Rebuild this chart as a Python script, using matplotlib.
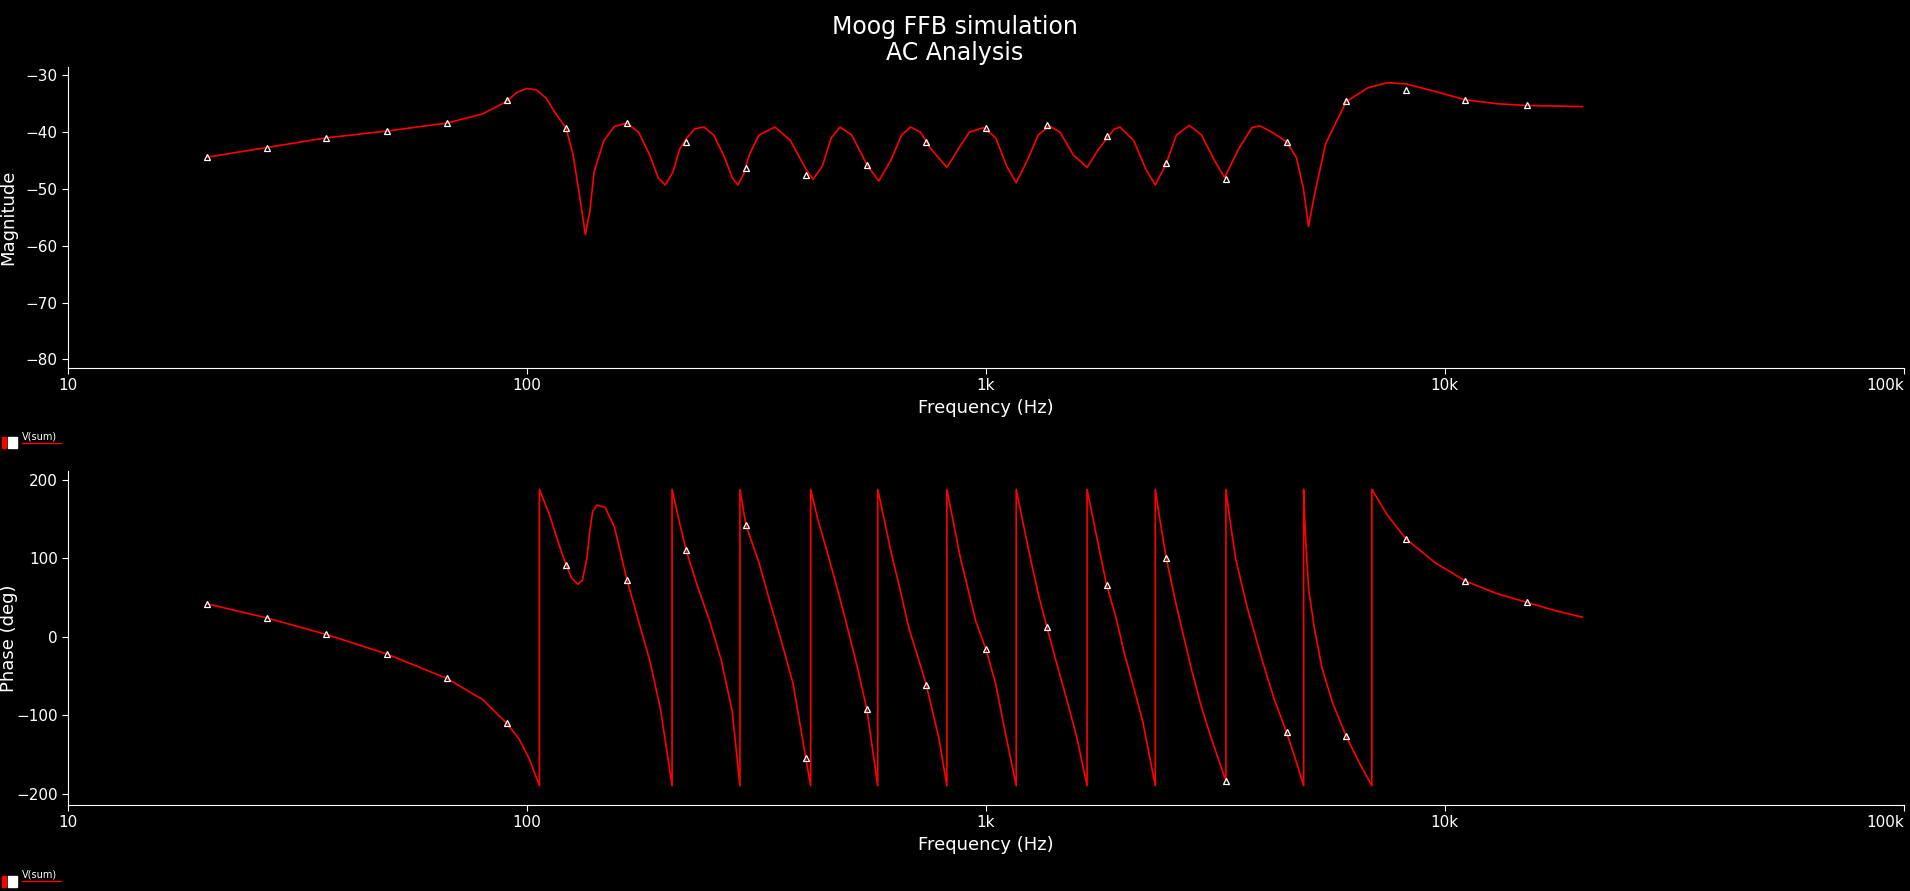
import matplotlib
matplotlib.use("Agg")
import matplotlib.pyplot as plt
from matplotlib.ticker import FixedLocator, NullLocator

# Magnitude curve (Hz, dB)
mag_f = [20.1, 27.1, 36.5, 49.5, 66.8, 80, 90.2, 95, 100, 105, 110, 115, 121.6, 126, 130, 134, 137, 140,
         147, 155, 165, 175, 185, 193, 200, 208, 215, 222, 232, 243, 255, 268, 280, 288, 296, 305, 320,
         347, 375, 405, 420, 440, 460, 481, 510, 550, 584, 620, 655, 685, 720, 760, 822, 870, 920, 988,
         1050, 1110, 1164, 1230, 1300, 1374, 1450, 1550, 1661, 1760, 1900, 1959, 2100, 2230, 2339, 2472,
         2600, 2775, 2950, 3150, 3313, 3550, 3800, 3955, 4200, 4520, 4750, 4920, 5047, 5200, 5500, 6098,
         6800, 7500, 8224, 9500, 11090, 13000, 15070, 19950]
mag_db = [-44.4, -42.7, -41.0, -39.8, -38.4, -36.8, -34.6, -33.0, -32.3, -32.6, -34.0, -36.5, -39.3, -44,
          -51, -58, -54, -47, -41.5, -39, -38.4, -40, -44, -48, -49.3, -47, -43, -41.2, -39.4, -39.1, -40.5,
          -44, -48, -49.3, -47.5, -44, -40.5, -39.1, -41.5, -46.5, -48.3, -46, -41, -39.1, -40.5, -45.7,
          -48.6, -45, -40.5, -39.1, -40, -43, -46.2, -43, -40, -39.2, -41, -46, -48.9, -45, -40.5, -38.9,
          -40, -44, -46.2, -43, -39.5, -39.1, -41.5, -46.5, -49.3, -45.5, -40.5, -38.8, -40.5, -45, -48.0,
          -43, -39.2, -38.9, -40, -41.7, -44.5, -50, -56.6, -51, -42, -34.6, -32.2, -31.3, -31.5, -32.8,
          -34.3, -35, -35.3, -35.5]
mag_mk_f = [20.1, 27.1, 36.5, 49.5, 66.8, 90.2, 121.6, 165, 222, 300, 405, 550, 741, 1000, 1357,
            1832, 2472, 3334, 4520, 6098, 8224, 11090, 15070]
mag_mk_db = [-44.3, -42.7, -41.0, -39.8, -38.3, -34.3, -39.2, -38.3, -41.7, -46.3, -47.6, -45.7,
             -41.7, -39.2, -38.8, -40.7, -45.5, -48.3, -41.7, -34.6, -32.5, -34.3, -35.3]

# Phase curve (Hz, deg), wraps given as repeated frequencies
ph_f = [20.1, 27.1, 36.5, 49.5, 66.8, 80, 90.2, 96, 101, 106.4,
        106.4, 112, 117, 121.6, 125, 129, 132, 135, 137, 139, 142, 148, 155, 165, 175, 185, 195, 201, 207,
        207, 215, 222, 235, 250, 265, 280, 291,
        291, 300, 320, 340, 360, 380, 405, 415,
        415, 430, 450, 475, 500, 525, 550, 581,
        581, 600, 620, 650, 680, 710, 741, 790, 822,
        822, 850, 880, 915, 950, 1000, 1050, 1100, 1164,
        1164, 1200, 1250, 1300, 1357, 1420, 1500, 1580, 1661,
        1661, 1740, 1832, 1920, 2000, 2100, 2200, 2339,
        2339, 2400, 2472, 2600, 2800, 2950, 3100, 3334,
        3334, 3400, 3500, 3700, 4000, 4250, 4520, 4750, 4924,
        4924, 4950, 4990, 5050, 5200, 5400, 5700, 6098, 6500, 6934,
        6934, 7500, 8224, 9500, 11090, 13000, 15070, 17500, 19950]
ph_deg = [42, 24, 3, -22, -53, -80, -110, -130, -155, -190,
          188, 155, 120, 92, 75, 67, 72, 100, 135, 160, 168, 165, 140, 73, 20, -30, -90, -140, -190,
          188, 145, 111, 65, 20, -30, -95, -190,
          188, 142, 95, 40, -10, -60, -155, -190,
          188, 150, 110, 60, 10, -40, -92, -190,
          188, 150, 110, 60, 10, -25, -61, -130, -190,
          188, 145, 100, 60, 20, -16, -60, -120, -190,
          188, 150, 100, 55, 13, -30, -80, -130, -190,
          188, 130, 66, 25, -20, -65, -110, -190,
          188, 145, 100, 40, -40, -90, -130, -184,
          188, 150, 100, 40, -30, -80, -122, -160, -190,
          188, 150, 110, 60, 10, -40, -85, -127, -160, -190,
          188, 155, 125, 95, 71, 55, 44, 33, 25]
ph_mk_f = [20.1, 27.1, 36.5, 49.5, 66.8, 90.2, 121.6, 165, 222, 300, 405, 550, 741, 1000, 1357,
           1832, 2472, 3334, 4520, 6098, 8224, 11090, 15070]
ph_mk_deg = [42, 24, 3, -22, -53, -110, 92, 73, 111, 142, -155, -92, -61, -16, 13, 66, 100,
             -184, -122, -127, 125, 71, 44]

xticks = [10, 100, 1000, 10000, 100000]
xticklabels = ["10", "100", "1k", "10k", "100k"]

fig = plt.figure(figsize=(19.1, 8.91), dpi=100, facecolor="black")
ax1 = fig.add_axes([0.0357, 0.587, 0.961, 0.338])
ax2 = fig.add_axes([0.0357, 0.097, 0.961, 0.374])

def style(ax, ylabel):
    ax.set_facecolor("black")
    ax.set_xscale("log")
    ax.set_xlim(10, 100000)
    ax.xaxis.set_major_locator(FixedLocator(xticks))
    ax.set_xticklabels(xticklabels)
    ax.xaxis.set_minor_locator(NullLocator())
    ax.get_xticklabels()[-1].set_horizontalalignment("right")
    for s in ["top", "right"]:
        ax.spines[s].set_visible(False)
    for s in ["left", "bottom"]:
        ax.spines[s].set_color("white")
    ax.tick_params(colors="white", labelsize=11, length=4)
    ax.set_xlabel("Frequency (Hz)", color="white", fontsize=13)
    ax.set_ylabel(ylabel, color="white", fontsize=13)
    ax.yaxis.set_label_coords(-0.0275, 0.5)

style(ax1, "Magnitude")
ax1.plot(mag_f, mag_db, color="red", lw=1.2)
ax1.plot(mag_mk_f, mag_mk_db, ls="none", marker="^", ms=5, mfc="none", mec="white", mew=0.9)
ax1.set_ylim(-81.5, -28.5)
ax1.set_yticks([-80, -70, -60, -50, -40, -30])

style(ax2, "Phase (deg)")
ax2.plot(ph_f, ph_deg, color="red", lw=1.2)
ax2.plot(ph_mk_f, ph_mk_deg, ls="none", marker="^", ms=5, mfc="none", mec="white", mew=0.9)
ax2.set_ylim(-214, 211)
ax2.set_yticks([-200, -100, 0, 100, 200])

fig.text(0.5, 0.955, "Moog FFB simulation\nAC Analysis", color="white", fontsize=17,
         ha="center", va="center", linespacing=1.1)

for y in [0.505, 0.013]:
    fig.text(0.0115, y, "V(sum)", color="white", fontsize=7, va="bottom")
    fig.add_artist(plt.Line2D([0.0115, 0.032], [y - 0.002, y - 0.002], color="red", lw=1))
    fig.add_artist(plt.Rectangle((0.004, y - 0.008), 0.005, 0.012, color="white"))
    fig.add_artist(plt.Rectangle((0.001, y - 0.008), 0.002, 0.012, color="red"))

fig.savefig("out.png", dpi=100, facecolor="black")
